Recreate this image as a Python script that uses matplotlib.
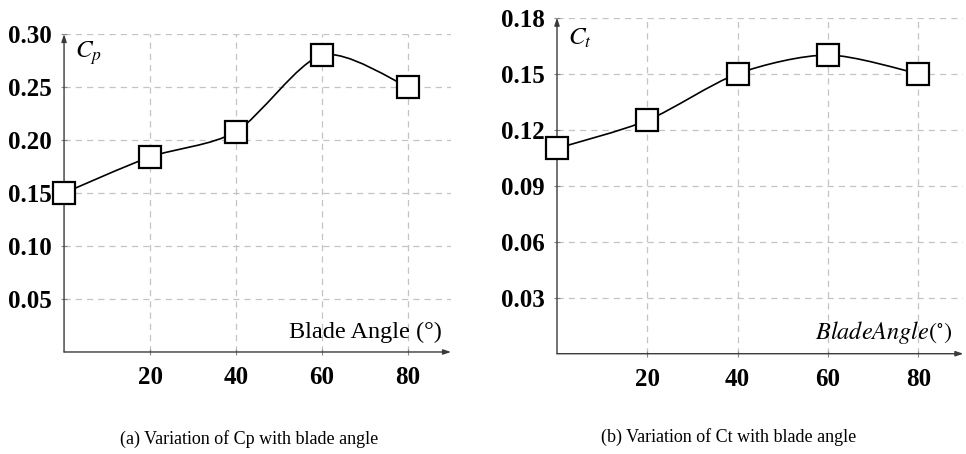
import matplotlib
matplotlib.use("Agg")
import matplotlib.pyplot as plt
from matplotlib.path import Path
from matplotlib.patches import PathPatch
import numpy as np

plt.rcParams['mathtext.fontset'] = 'stix'
plt.rcParams['font.family'] = ['Liberation Serif', 'DejaVu Serif']

blade_angle = [0, 20, 40, 60, 80]
cp_values = [0.150, 0.184, 0.208, 0.280, 0.250]
ct_values = [0.110, 0.125, 0.150, 0.160, 0.150]
x_ticks = [20, 40, 60, 80]
cp_ticks = [0.05, 0.10, 0.15, 0.20, 0.25, 0.30]
ct_ticks = [0.03, 0.06, 0.09, 0.12, 0.15, 0.18]
caption_a = "(a) Variation of Cp with blade angle"
caption_b = "(b) Variation of Ct with blade angle"


def smooth_path(xs, ys, k=0.14):
    p = np.column_stack([xs, ys]).astype(float)
    n = len(p)
    verts = [p[0]]
    codes = [Path.MOVETO]
    for i in range(n - 1):
        prev = p[i - 1] if i > 0 else p[i]
        nxt = p[i + 2] if i + 2 < n else p[i + 1]
        c1 = p[i] + k * (p[i + 1] - prev)
        c2 = p[i + 1] - k * (nxt - p[i])
        verts += [c1, c2, p[i + 1]]
        codes += [Path.CURVE4] * 3
    return Path(verts, codes)


fig = plt.figure(figsize=(9.66, 4.54), dpi=100)

axis_col = '#3a3a3a'
grid_col = '#c4c4c4'


def setup(ax, yvals, yticks, ylim, ytickfmt):
    ax.set_xlim(0, 90)
    ax.set_ylim(0, ylim)
    for s in ax.spines.values():
        s.set_visible(False)
    ax.set_xticks(x_ticks)
    ax.set_yticks(yticks)
    ax.set_xticklabels([str(t) for t in x_ticks], fontweight='bold', fontsize=18)
    ax.set_yticklabels([ytickfmt.format(t) for t in yticks], fontweight='bold', fontsize=18)
    ax.tick_params(axis='both', direction='inout', length=4, width=0.8, color='#888888')
    ax.tick_params(axis='x', pad=8)
    ax.tick_params(axis='y', pad=7)
    for xv in x_ticks:
        ax.plot([xv, xv], [0, ylim], color=grid_col, lw=0.9, dashes=(5, 4), zorder=1)
    for yv in yticks:
        ax.plot([0, 90], [yv, yv], color=grid_col, lw=0.9, dashes=(5, 4), zorder=1)
    ax.annotate('', xy=(1.0, 0), xytext=(0, 0), xycoords='axes fraction',
                arrowprops=dict(arrowstyle='-|>,head_length=0.45,head_width=0.15',
                                color=axis_col, lw=1.0, shrinkA=0, shrinkB=0), zorder=2)
    ax.annotate('', xy=(0, 1.0), xytext=(0, 0), xycoords='axes fraction',
                arrowprops=dict(arrowstyle='-|>,head_length=0.45,head_width=0.15',
                                color=axis_col, lw=1.0, shrinkA=0, shrinkB=0), zorder=2)
    ax.add_patch(PathPatch(smooth_path(blade_angle, yvals), fill=False, edgecolor='black',
                           lw=1.2, zorder=3, clip_on=False))
    ax.plot(blade_angle, yvals, linestyle='none', marker='s', ms=15.5, mfc='white',
            mec='black', mew=1.6, zorder=4, clip_on=False)


ax1 = fig.add_axes([0.0663, 0.2247, 0.4006, 0.7004])
setup(ax1, cp_values, cp_ticks, 0.30, '{:.2f}')
ax1.text(0.028, 0.94, r'$C_p$', transform=ax1.transAxes, ha='left', va='center', fontsize=18)
ax1.text(0.977, 0.063, 'Blade Angle (°)', transform=ax1.transAxes, ha='right', va='center',
         fontsize=17.5)

ax2 = fig.add_axes([0.5766, 0.2209, 0.4207, 0.7401])
setup(ax2, ct_values, ct_ticks, 0.18, '{:.2f}')
ax2.text(0.027, 0.94, r'$C_t$', transform=ax2.transAxes, ha='left', va='center', fontsize=18)
ax2.text(0.974, 0.062, r'$BladeAngle(^{\circ})$', transform=ax2.transAxes, ha='right',
         va='center', fontsize=17.5)

fig.text(249 / 966, 1 - 439 / 454, caption_a, ha='center', va='center', fontsize=13)
fig.text(729 / 966, 1 - 437 / 454, caption_b, ha='center', va='center', fontsize=13)

fig.savefig('out.png', dpi=100)
